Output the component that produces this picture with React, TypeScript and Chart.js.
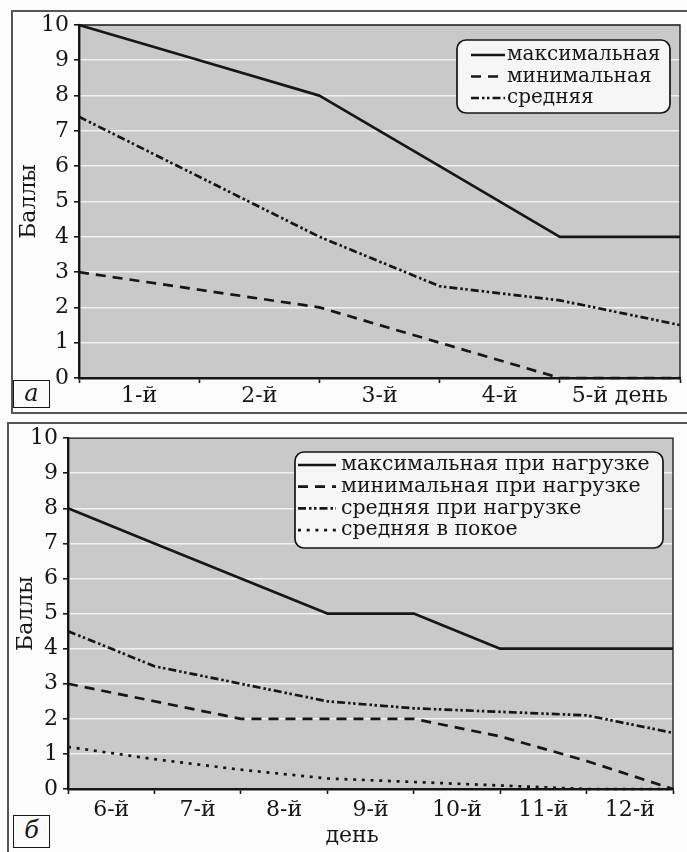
import React, { useEffect, useRef } from 'react';
import { Chart, registerables } from 'chart.js';

Chart.register(...registerables);

// ---------- data ----------
const yTitle = 'Баллы';

const daysA = ['1-й', '2-й', '3-й', '4-й', '5-й день'];
const namesA = ['максимальная', 'минимальная', 'средняя'];
const maxA = [10, 9, 8, 6, 4, 4];
const minA = [3, 2.5, 2, 1, 0, 0];
const avgA = [7.4, 5.7, 4, 2.6, 2.2, 1.5];

const daysB = ['6-й', '7-й', '8-й', '9-й', '10-й', '11-й', '12-й'];
const xTitleB = 'день';
const namesB = [
  'максимальная при нагрузке',
  'минимальная при нагрузке',
  'средняя при нагрузке',
  'средняя в покое',
];
const maxB = [8, 7, 6, 5, 5, 4, 4, 4];
const minB = [3, 2.5, 2, 2, 2, 1.5, 0.8, 0];
const avgLoadB = [4.5, 3.5, 3, 2.5, 2.3, 2.2, 2.1, 1.6];
const avgRestB = [1.2, 0.85, 0.55, 0.3, 0.2, 0.1, 0, 0];

const panelLetters = ['а', 'б'];

// ---------- style ----------
const FONT = '"DejaVu Serif", serif';
const INK = '#161616';
const PLOT_BG = '#c9c9c9';
const GRID = '#f1f1f1';
const DASH = {
  solid: [] as number[],
  dashed: [10, 7],
  dashDotDot: [8, 3, 2.5, 2.5, 2.5, 3],
  dotted: [3, 5.7],
};

const framePlugin = {
  id: 'plotFrame',
  beforeDraw(chart: any, _a: any, o: any) {
    const { ctx, chartArea: a } = chart;
    ctx.save();
    ctx.fillStyle = o.bg;
    ctx.fillRect(a.left, a.top, a.right - a.left, a.bottom - a.top);
    ctx.restore();
  },
  afterDatasetsDraw(chart: any, _a: any, o: any) {
    const { ctx, chartArea: a } = chart;
    ctx.save();
    ctx.strokeStyle = o.border;
    ctx.lineWidth = 1.3;
    ctx.beginPath();
    ctx.moveTo(a.left, a.top);
    ctx.lineTo(a.right, a.top);
    ctx.lineTo(a.right, a.bottom);
    ctx.stroke();
    ctx.restore();
  },
};

const boxLegendPlugin = {
  id: 'boxLegend',
  afterDraw(chart: any, _a: any, o: any) {
    const ctx = chart.ctx;
    ctx.save();
    ctx.beginPath();
    ctx.roundRect(o.x, o.y, o.w, o.h, o.r);
    ctx.fillStyle = o.bg;
    ctx.fill();
    ctx.lineWidth = 1.7;
    ctx.strokeStyle = INK;
    ctx.stroke();
    chart.data.datasets.forEach((ds: any, i: number) => {
      const y = o.y0 + i * o.rowH;
      ctx.beginPath();
      ctx.setLineDash(ds.borderDash || []);
      ctx.lineWidth = ds.borderWidth;
      ctx.strokeStyle = ds.borderColor;
      ctx.moveTo(o.sx0, y);
      ctx.lineTo(o.sx1, y);
      ctx.stroke();
      ctx.setLineDash([]);
      ctx.fillStyle = INK;
      ctx.font = `${o.fontSize}px ${FONT}`;
      ctx.textBaseline = 'middle';
      ctx.textAlign = 'left';
      ctx.fillText(ds.label, o.tx, y);
    });
    if (o.extraText) {
      ctx.font = `${o.extraText.size}px ${FONT}`;
      ctx.fillStyle = INK;
      ctx.textAlign = 'center';
      ctx.textBaseline = 'middle';
      ctx.fillText(o.extraText.text, o.extraText.x, o.extraText.y);
    }
    ctx.restore();
  },
};

type Spec = {
  left: number;
  top: number;
  w: number;
  h: number;
  area: { left: number; right: number; top: number; bottom: number };
  days: string[];
  series: { name: string; values: number[]; dash: number[] }[];
  titlePad: number;
  xPad: number;
  legend: any;
};

function makeConfig(spec: Spec): any {
  const n = spec.days.length;
  const xFont = { family: FONT, size: 22 };
  const yFont = { family: FONT, size: 22 };
  return {
    type: 'line',
    data: {
      datasets: spec.series.map((s) => ({
        label: s.name,
        data: s.values.map((v, i) => ({ x: i, y: v })),
        borderColor: INK,
        borderWidth: 2.7,
        borderDash: s.dash,
        borderCapStyle: 'butt',
        borderJoinStyle: 'round',
        pointRadius: 0,
        tension: 0,
        fill: false,
        clip: 6,
      })),
    },
    options: {
      animation: false,
      responsive: false,
      maintainAspectRatio: false,
      events: [],
      layout: {
        padding: {
          left: 0,
          top: spec.area.top,
          right: spec.w - spec.area.right,
          bottom: 0,
        },
      },
      plugins: {
        legend: { display: false },
        tooltip: { enabled: false },
        plotFrame: { bg: PLOT_BG, border: INK },
        boxLegend: spec.legend,
      },
      scales: {
        x: {
          type: 'linear',
          min: 0,
          max: n,
          afterFit: (s: any) => {
            s.height = spec.h - spec.area.bottom;
          },
          afterBuildTicks: (s: any) => {
            s.ticks = Array.from({ length: 2 * n + 1 }, (_, k) => ({ value: k / 2 }));
          },
          ticks: {
            autoSkip: false,
            maxRotation: 0,
            minRotation: 0,
            padding: spec.xPad,
            color: INK,
            font: xFont,
            callback: (v: number) => {
              const k = Math.round(v * 2);
              return k % 2 === 1 ? spec.days[(k - 1) / 2] : '';
            },
          },
          grid: {
            drawOnChartArea: false,
            drawTicks: true,
            tickLength: 5,
            tickWidth: 1.6,
            tickColor: (c: any) => {
              const v = c.tick ? c.tick.value : 0;
              return Math.abs(v - Math.round(v)) < 1e-6 ? INK : 'rgba(0,0,0,0)';
            },
          },
          border: { display: true, color: INK, width: 2.4 },
        },
        y: {
          type: 'linear',
          min: 0,
          max: 10,
          afterFit: (s: any) => {
            s.width = spec.area.left;
          },
          ticks: {
            stepSize: 1,
            padding: 5,
            color: INK,
            font: yFont,
          },
          grid: {
            color: (c: any) => {
              const v = c.tick ? c.tick.value : 0;
              return v === 0 || v === 10 ? 'rgba(0,0,0,0)' : GRID;
            },
            lineWidth: 1.6,
            drawTicks: true,
            tickLength: 5,
            tickWidth: 1.6,
            tickColor: INK,
          },
          border: { display: true, color: INK, width: 2.4 },
          title: {
            display: true,
            text: yTitle,
            color: INK,
            font: { family: FONT, size: 22 },
            padding: { top: spec.titlePad, bottom: 0 },
          },
        },
      },
    },
    plugins: [framePlugin, boxLegendPlugin],
  };
}

const specA: Spec = {
  left: 0,
  top: 0,
  w: 687,
  h: 415,
  area: { left: 79, right: 680, top: 25, bottom: 378 },
  days: daysA,
  series: [
    { name: namesA[0], values: maxA, dash: DASH.solid },
    { name: namesA[1], values: minA, dash: DASH.dashed },
    { name: namesA[2], values: avgA, dash: DASH.dashDotDot },
  ],
  titlePad: 16,
  xPad: 0,
  legend: {
    x: 457, y: 40, w: 213, h: 73, r: 9, bg: '#f6f6f6',
    sx0: 471, sx1: 505, tx: 507, y0: 55, rowH: 21.5, fontSize: 20,
  },
};

const specB: Spec = {
  left: 0,
  top: 420,
  w: 687,
  h: 432,
  area: { left: 68, right: 673, top: 18, bottom: 369 },
  days: daysB,
  series: [
    { name: namesB[0], values: maxB, dash: DASH.solid },
    { name: namesB[1], values: minB, dash: DASH.dashed },
    { name: namesB[2], values: avgLoadB, dash: DASH.dashDotDot },
    { name: namesB[3], values: avgRestB, dash: DASH.dotted },
  ],
  titlePad: 13,
  xPad: 3,
  legend: {
    x: 295, y: 32, w: 368, h: 96, r: 9, bg: '#f6f6f6',
    sx0: 298, sx1: 336, tx: 341, y0: 45, rowH: 21.7, fontSize: 20.5,
    extraText: { text: xTitleB, x: 352, y: 416, size: 22 },
  },
};

function LineChart({ spec }: { spec: Spec }) {
  const ref = useRef<HTMLCanvasElement | null>(null);
  useEffect(() => {
    if (!ref.current) return;
    const chart = new Chart(ref.current, makeConfig(spec));
    return () => chart.destroy();
  }, [spec]);
  return (
    <canvas
      ref={ref}
      width={spec.w}
      height={spec.h}
      style={{
        position: 'absolute',
        left: spec.left,
        top: spec.top,
        width: spec.w,
        height: spec.h,
        zIndex: 2,
      }}
    />
  );
}

function LetterBox({ text, left, top, w, h }: { text: string; left: number; top: number; w: number; h: number }) {
  return (
    <div
      style={{
        position: 'absolute',
        left,
        top,
        width: w,
        height: h,
        boxSizing: 'border-box',
        border: `1.5px solid ${INK}`,
        background: '#fbfbfb',
        fontFamily: FONT,
        fontStyle: 'italic',
        fontSize: 24,
        lineHeight: `${h - 4}px`,
        textAlign: 'center',
        color: INK,
        zIndex: 3,
      }}
    >
      {text}
    </div>
  );
}

export default function App() {
  return (
    <div
      style={{
        position: 'absolute',
        left: 0,
        top: 0,
        width: 687,
        height: 852,
        overflow: 'hidden',
        background: '#fcfcfc',
      }}
    >
      <div
        style={{
          position: 'absolute',
          left: 11,
          top: 10,
          width: 700,
          height: 404,
          boxSizing: 'border-box',
          border: '2px solid #555',
          zIndex: 1,
        }}
      />
      <div
        style={{
          position: 'absolute',
          left: 7,
          top: 422,
          width: 700,
          height: 460,
          boxSizing: 'border-box',
          border: '2px solid #555',
          zIndex: 1,
        }}
      />
      <LineChart spec={specA} />
      <LineChart spec={specB} />
      <LetterBox text={panelLetters[0]} left={13} top={380} w={37} h={28} />
      <LetterBox text={panelLetters[1]} left={13} top={815} w={37} h={33} />
    </div>
  );
}
